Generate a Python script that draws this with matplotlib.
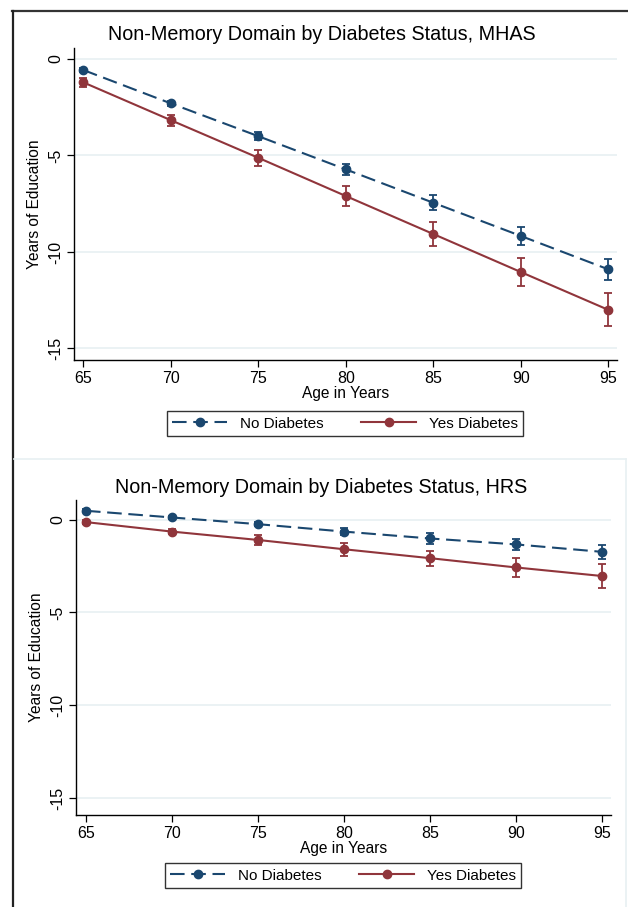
import matplotlib
matplotlib.use("Agg")
import matplotlib.pyplot as plt
from matplotlib.lines import Line2D
import numpy as np

plt.rcParams['font.family'] = ['Liberation Sans', 'DejaVu Sans']

ages = [65, 70, 75, 80, 85, 90, 95]

# MHAS
mhas_no = [-0.57, -2.30, -4.00, -5.72, -7.45, -9.17, -10.90]
mhas_no_err = [0.12, 0.14, 0.22, 0.30, 0.38, 0.45, 0.53]
mhas_yes = [-1.21, -3.17, -5.12, -7.10, -9.07, -11.04, -13.00]
mhas_yes_err = [0.22, 0.29, 0.40, 0.51, 0.62, 0.73, 0.85]

# HRS
hrs_no = [0.47, 0.11, -0.25, -0.65, -1.02, -1.34, -1.74]
hrs_no_err = [0.08, 0.08, 0.10, 0.18, 0.28, 0.31, 0.38]
hrs_yes = [-0.14, -0.65, -1.10, -1.60, -2.08, -2.58, -3.04]
hrs_yes_err = [0.12, 0.15, 0.25, 0.36, 0.41, 0.51, 0.62]

titles = ["Non-Memory Domain by Diabetes Status, MHAS",
          "Non-Memory Domain by Diabetes Status, HRS"]
yticks = [0, -5, -10, -15]
ytick_labels = ["0", "-5", "-10", "-15"]
xticks = [65, 70, 75, 80, 85, 90, 95]
legend_labels = ["No Diabetes", "Yes Diabetes"]

NAVY = "#1a476f"
MAROON = "#90353b"
GRID = "#e8f0f2"

W, H = 628, 907
fig = plt.figure(figsize=(W / 100, H / 100), dpi=100)
fig.patch.set_facecolor("white")

def fx(px):
    return px / W

def fy(py):
    return 1 - py / H

panels = [
    dict(no=mhas_no, noe=mhas_no_err, yes=mhas_yes, yese=mhas_yes_err,
         left=74, right=617, top=48, bottom=360, ylim=(-15.6, 0.57),
         xlim=(64.47, 95.5), title_y=35, title_x=322, leg_y=423.5, leg_x=345),
    dict(no=hrs_no, noe=hrs_no_err, yes=hrs_yes, yese=hrs_yes_err,
         left=76, right=611, top=500, bottom=815, ylim=(-15.9, 1.05),
         xlim=(64.42, 95.52), title_y=488, title_x=321, leg_y=875.5, leg_x=343),
]

MS = 6
for i, p in enumerate(panels):
    ax = fig.add_axes([fx(p['left']), fy(p['bottom']),
                       fx(p['right'] - p['left']), (p['bottom'] - p['top']) / H])
    ax.set_facecolor("white")
    ax.errorbar(ages, p['no'], yerr=p['noe'], color=NAVY, marker='o', ms=MS,
                lw=1.5, dashes=(7, 3.2), capsize=3, elinewidth=1.3, capthick=1.3,
                zorder=3)
    ax.errorbar(ages, p['yes'], yerr=p['yese'], color=MAROON, marker='o', ms=MS,
                lw=1.5, capsize=3, elinewidth=1.3, capthick=1.3, zorder=3)
    ax.set_xlim(*p['xlim'])
    ax.set_ylim(*p['ylim'])
    ax.set_yticks(yticks)
    ax.set_yticklabels(ytick_labels, rotation=90, va='center')
    ax.set_xticks(xticks)
    ax.tick_params(axis='both', labelsize=11.5, length=5, width=0.9, color='black',
                   pad=3)
    ax.grid(axis='y', color=GRID, lw=1.2, zorder=0)
    ax.set_axisbelow(True)
    for s in ['top', 'right']:
        ax.spines[s].set_visible(False)
    for s in ['left', 'bottom']:
        ax.spines[s].set_linewidth(1.0)
    ax.set_xlabel("Age in Years", fontsize=11.2, labelpad=0)
    ax.set_ylabel("Years of Education", fontsize=11.2, labelpad=4)
    fig.text(fx(p['title_x']), fy(p['title_y']), titles[i], ha='center', va='center',
             fontsize=14.2)
    handles = [
        Line2D([], [], color=NAVY, marker='o', ms=MS, lw=1.5, dashes=(7, 3.2)),
        Line2D([], [], color=MAROON, marker='o', ms=MS, lw=1.5),
    ]
    leg = fig.legend(handles, legend_labels, loc='center',
                     bbox_to_anchor=(fx(p['leg_x']), fy(p['leg_y'])),
                     ncol=2, fontsize=11, frameon=True, fancybox=False,
                     edgecolor='black', handlelength=3.6, columnspacing=2.5,
                     borderpad=0.35, handletextpad=0.8, borderaxespad=0)
    leg.get_frame().set_linewidth(1.0)

# Frame lines
fig.add_artist(Line2D([fx(12), fx(628)], [fy(11), fy(11)], color='#333333', lw=1.6))
fig.add_artist(Line2D([fx(13), fx(13)], [fy(11), fy(907)], color='#222222', lw=1.6))
fig.add_artist(Line2D([fx(14), fx(626)], [fy(459), fy(459)], color=GRID, lw=1.2))
fig.add_artist(Line2D([fx(626), fx(626)], [fy(459), fy(907)], color=GRID, lw=1.2))

fig.savefig("out.png", dpi=100)
